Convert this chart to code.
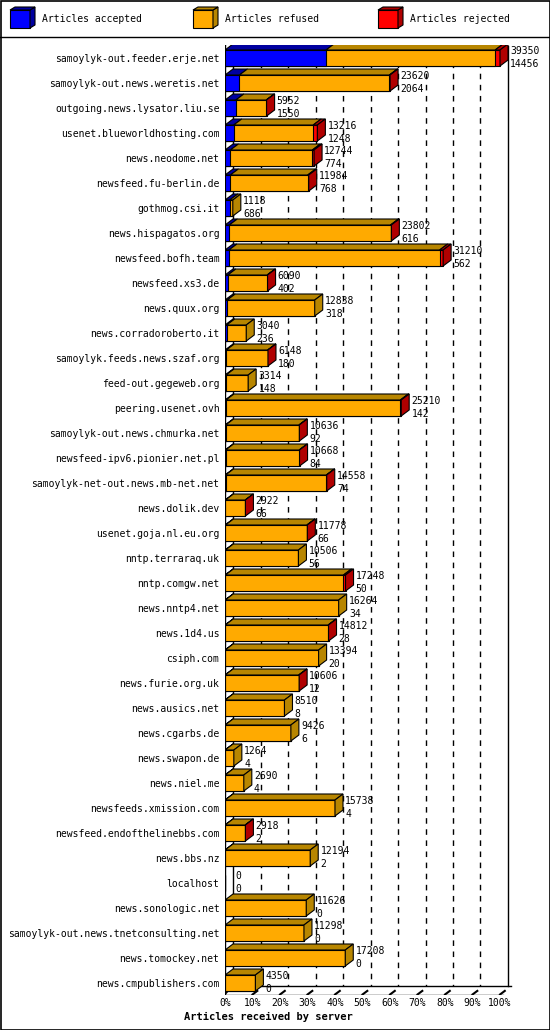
import numpy as np, pandas as pd, seaborn as sns, matplotlib
matplotlib.use("Agg")
import matplotlib.pyplot as plt
from matplotlib.patches import Polygon, Rectangle

servers = ["samoylyk-out.feeder.erje.net","samoylyk-out.news.weretis.net","outgoing.news.lysator.liu.se",
"usenet.blueworldhosting.com","news.neodome.net","newsfeed.fu-berlin.de","gothmog.csi.it","news.hispagatos.org",
"newsfeed.bofh.team","newsfeed.xs3.de","news.quux.org","news.corradoroberto.it","samoylyk.feeds.news.szaf.org",
"feed-out.gegeweb.org","peering.usenet.ovh","samoylyk-out.news.chmurka.net","newsfeed-ipv6.pionier.net.pl",
"samoylyk-net-out.news.mb-net.net","news.dolik.dev","usenet.goja.nl.eu.org","nntp.terraraq.uk","nntp.comgw.net",
"news.nntp4.net","news.1d4.us","csiph.com","news.furie.org.uk","news.ausics.net","news.cgarbs.de","news.swapon.de",
"news.niel.me","newsfeeds.xmission.com","newsfeed.endofthelinebbs.com","news.bbs.nz","localhost",
"news.sonologic.net","samoylyk-out.news.tnetconsulting.net","news.tomockey.net","news.cmpublishers.com"]
offered = [39350,23620,5952,13216,12744,11984,1118,23802,31210,6090,12838,3040,6148,3314,25210,10636,10668,14558,
2922,11778,10506,17248,16264,14812,13394,10606,8510,9426,1264,2690,15738,2918,12194,0,11626,11298,17208,4350]
accepted = [14456,2064,1550,1248,774,768,686,616,562,402,318,236,180,148,142,92,84,74,66,66,56,50,34,28,20,12,8,6,4,4,4,2,2,0,0,0,0,0]
rejected = [700,100,60,600,250,150,0,120,500,60,0,0,40,0,120,60,60,60,25,60,0,300,0,60,0,60,0,0,0,0,0,25,0,0,0,0,0,0]

acc = np.array(accepted, float); rej = np.array(rejected, float); tot = np.array(offered, float)
ref = tot - acc - rej
scale = 100.0 / max(offered)
c1 = acc * scale; c2 = (acc + ref) * scale; c3 = tot * scale
df = pd.DataFrame({"server": servers, "c1": c1, "c2": c2, "c3": c3})

W, H = 550, 1030
fig = plt.figure(figsize=(5.5, 10.3), dpi=100)
mono = "DejaVu Sans Mono"
plt.rcParams["font.family"] = mono

L, R, T, B = 225, 520, 45, 995
ax = fig.add_axes([L / W, 1 - B / H, (R - L) / W, (B - T) / H])
pxx = 100 / 275.0
n = len(servers)
hb = 0.64
cols = [("#0000ff", "#0000a0"), ("#ffaa00", "#b88600"), ("#ff0000", "#b00000")]
for col, (fc, _) in zip(["c3", "c2", "c1"], [cols[2], cols[1], cols[0]]):
    sns.barplot(data=df, x=col, y="server", color=fc, width=hb, edgecolor="black",
                linewidth=0.8, saturation=1, orient="h", ax=ax, zorder=2)
ax.set_xlim(0, (R - L) * pxx)
ax.set_ylim(n - 1 + (B - 58 - 25 * (n - 1)) / 25.0, -(58 - T) / 25.0)
dx, dy = 8 * pxx, 6 / 25.0

ybot = n - 1 + 0.1
ax.plot([dx, dx], [-0.2, ybot], color="black", lw=1, zorder=0.5)
ax.plot([100 + dx, 100 + dx], [-0.5, ybot], color="black", lw=1, zorder=0.5)
for g in range(10, 100, 10):
    ax.plot([g + dx, g + dx], [-0.3, ybot], color="black", lw=1, ls=(0, (4, 4)), zorder=0.5)
fy = n - 1 + (B - 58 - 25 * (n - 1)) / 25.0 - 0.02
ax.plot([0, dx], [fy, ybot], color="black", lw=1, zorder=0.5)
ax.plot([dx, 100 + dx + 3 * pxx], [ybot, ybot], color="black", lw=1, zorder=0.5)
ax.plot([0, 100 + 3 * pxx], [fy, fy], color="black", lw=1, zorder=0.5)
for g in range(10, 110, 10):
    ax.plot([g, g + dx * 0.6], [fy, fy - dy * 0.6], color="black", lw=1.5, zorder=0.5)

for i in range(n):
    top = i - hb / 2
    segs = [(0, c1[i], cols[0]), (c1[i], c2[i], cols[1]), (c2[i], c3[i], cols[2])]
    last = None
    for x0, x1, (fc, dc) in segs:
        if x1 - x0 > 0:
            ax.add_patch(Polygon([(x0, top), (x0 + dx, top - dy), (x1 + dx, top - dy), (x1, top)],
                                 closed=True, fc=dc, ec="black", lw=0.8, zorder=3))
            last = dc
    xe = c3[i]
    if last is not None:
        ax.add_patch(Polygon([(xe, top), (xe + dx, top - dy), (xe + dx, top + hb - dy), (xe, top + hb)],
                             closed=True, fc=last, ec="black", lw=0.8, zorder=3))
    ax.text(xe + dx + 0.8, i - 0.28, str(offered[i]), fontsize=7, va="center", ha="left", zorder=4)
    ax.text(xe + dx + 0.8, i + 0.22, str(accepted[i]), fontsize=7, va="center", ha="left", zorder=4)

ax.axvline(0, color="black", lw=1, zorder=1)
for s in ax.spines.values():
    s.set_visible(False)
ax.set_xlabel(""); ax.set_ylabel("")
ax.set_xticks([])
ax.tick_params(axis="y", length=0, labelsize=7, pad=4)

ov = fig.add_axes([0, 0, 1, 1], zorder=-1)
ov.set_xlim(0, W); ov.set_ylim(H, 0); ov.axis("off")
ov.add_patch(Rectangle((0.5, 0.5), W - 1, H - 1, fill=False, ec="black", lw=1.2))
ov.plot([0, W], [37, 37], color="black", lw=1)
ov2 = fig.add_axes([0, 0, 1, 1], zorder=5)
ov2.set_xlim(0, W); ov2.set_ylim(H, 0); ov2.axis("off")
legend = ["Articles accepted", "Articles refused", "Articles rejected"]
for x, lab, (fc, dc) in zip([10, 193, 378], legend, cols):
    ov2.add_patch(Polygon([(x, 10), (x + 20, 10), (x + 20, 28), (x, 28)], fc=fc, ec="black", lw=0.8))
    ov2.add_patch(Polygon([(x + 20, 10), (x + 25, 7), (x + 25, 25), (x + 20, 28)], fc=dc, ec="black", lw=0.8))
    ov2.add_patch(Polygon([(x, 10), (x + 5, 7), (x + 25, 7), (x + 20, 10)], fc=dc, ec="black", lw=0.8))
    ov2.text(x + 32, 19, lab, fontsize=7, va="center", ha="left")
for k in range(11):
    ov2.text(L + 27.5 * k, 1003, f"{k*10}%", fontsize=7, ha="center", va="center")
ov2.text(268, 1017, "Articles received by server", fontsize=7.5, fontweight="bold", ha="center", va="center")

fig.savefig("out.png", dpi=100)
